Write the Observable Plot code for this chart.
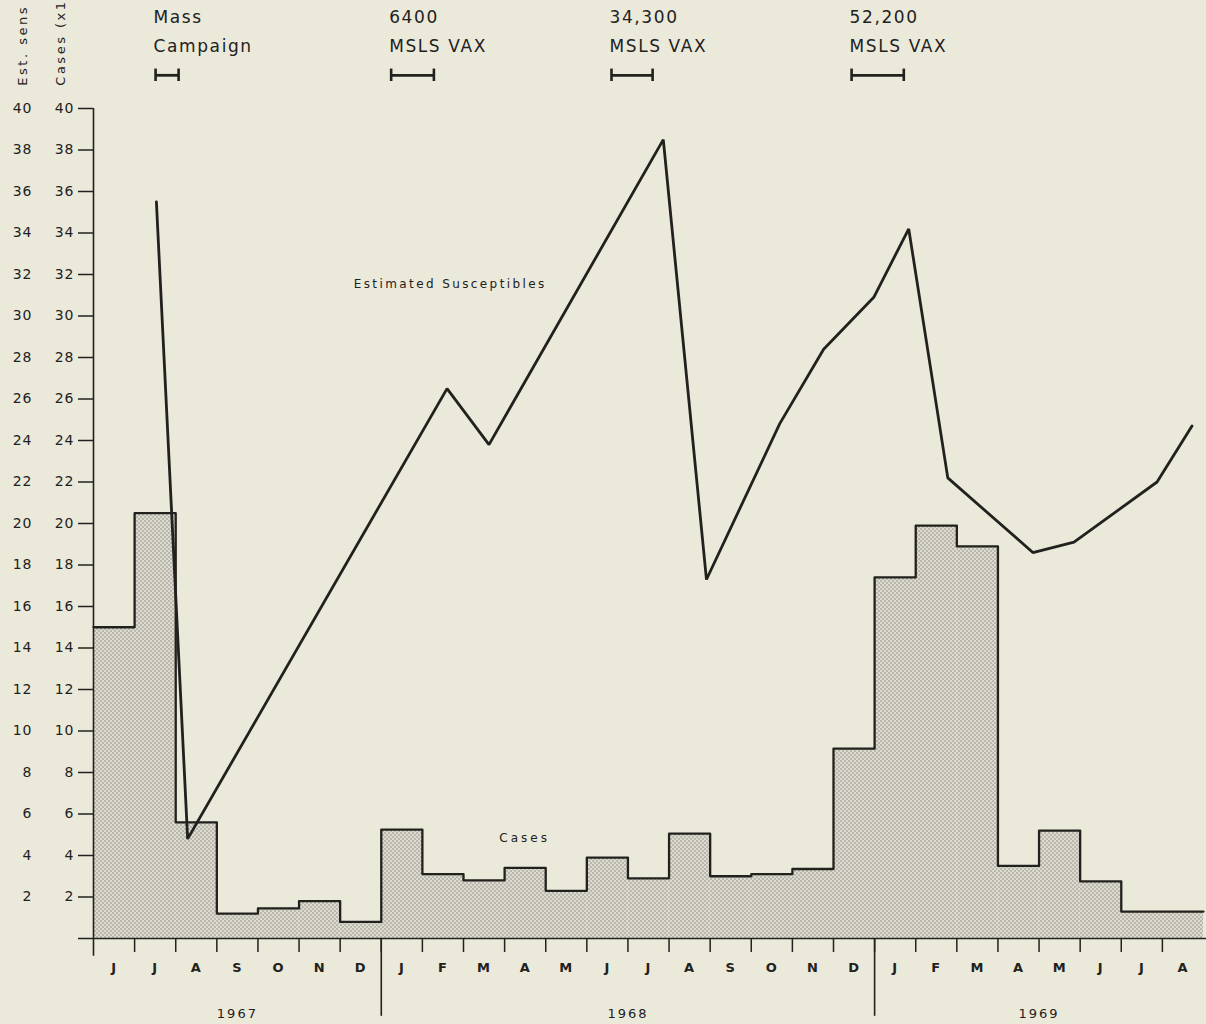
<!DOCTYPE html>
<html>
<head>
<meta charset="utf-8">
<script src="https://cdn.jsdelivr.net/npm/d3@7"></script>
<script src="https://cdn.jsdelivr.net/npm/@observablehq/plot@0.6"></script>
<style>
  html, body { margin: 0; padding: 0; background: #ebe9da; }
  #chart svg { display: block; }
</style>
</head>
<body>
<div id="chart"></div>
<script>
// ---- data ----
// month sequence from June 1967 to August 1969 (one entry per month)
const monthLetters = ["J","J","A","S","O","N","D",
                      "J","F","M","A","M","J","J","A","S","O","N","D",
                      "J","F","M","A","M","J","J","A"];
const years = ["1967", "1968", "1969"];
const yearStart = [0, 7, 19];   // month index where each year's block starts
const yearEnd = [7, 19, 27];
// monthly cases
const cases = [15.0, 20.5, 5.6, 1.2, 1.45, 1.8, 0.8,
               5.25, 3.1, 2.8, 3.4, 2.3, 3.9, 2.9, 5.05, 3.0, 3.1, 3.35, 9.15,
               17.4, 19.9, 18.9, 3.5, 5.2, 2.75, 1.3, 1.3];
// estimated susceptibles: time (months since 1 June 1967) and value
const suscTime = [1.53, 2.29, 8.6, 9.62, 13.86, 14.91, 16.69, 17.76, 18.98, 19.83, 20.78, 22.85, 23.85, 25.87, 26.72];
const suscValue = [35.5, 4.8, 26.5, 23.8, 38.5, 17.3, 24.8, 28.4, 30.9, 34.2, 22.2, 18.6, 19.1, 22.0, 24.7];
// vaccination campaigns
const campTop = ["Mass", "6400", "34,300", "52,200"];
const campBottom = ["Campaign", "MSLS VAX", "MSLS VAX", "MSLS VAX"];
const campStart = [1.51, 7.24, 12.6, 18.44];
const campEnd = [2.07, 8.28, 13.6, 19.71];
const yTicks = d3.range(0, 41, 2);

// ---- derived tables ----
const caseRows = cases.map((v, i) => ({t0: i, t1: i + 1, v}));
const stepRows = caseRows.map(d => ({t: d.t0, v: d.v})).concat([{t: cases.length, v: cases[cases.length - 1]}]);
const suscRows = suscTime.map((t, i) => ({t, v: suscValue[i]}));
const campRows = campTop.map((top, i) => ({top, bottom: campBottom[i], s: campStart[i], e: campEnd[i]}));
const yearRows = years.map((y, i) => ({y, c: (yearStart[i] + yearEnd[i]) / 2}));
const monthCenters = monthLetters.map((m, i) => i + 0.5);
const ink = "#22211d";
const CAMP_Y = 41.6;

const svg = Plot.plot({
  width: 1206,
  height: 1024,
  marginLeft: 93,
  marginRight: 3,
  marginTop: 108,
  marginBottom: 86,
  x: {domain: [0, 27]},
  y: {domain: [0, 40]},
  style: {background: "#ebe9da", fontFamily: "'DejaVu Sans', sans-serif", color: ink, letterSpacing: "1px"},
  marks: [
    // histogram of cases
    Plot.rect(caseRows, {x1: "t0", x2: "t1", y1: 0, y2: "v", fill: "url(#stipple)"}),
    Plot.line(stepRows, {x: "t", y: "v", curve: "step-after", stroke: ink, strokeWidth: 2.3}),
    // susceptibles line
    Plot.line(suscRows, {x: "t", y: "v", stroke: ink, strokeWidth: 2.8, strokeLinejoin: "miter"}),
    // y axes (two label columns)
    Plot.axisY({ticks: yTicks, tickSize: 15, tickPadding: 4, fontSize: 14, strokeWidth: 1.5, label: null,
                tickFormat: d => d === 0 ? "" : String(d)}),
    Plot.axisY({ticks: yTicks.filter(d => d > 0), tickSize: 0, tickPadding: 61, fontSize: 14, label: null,
                tickFormat: d => String(d)}),
    Plot.ruleX([0], {y1: -0.85, y2: 40, stroke: ink, strokeWidth: 1.6}),
    Plot.ruleY([0], {x1: 0, x2: 27.2, stroke: ink, strokeWidth: 1.6}),
    // x axis: month boundary ticks, month letters, year lines & labels
    Plot.axisX({ticks: d3.range(1, 27), tickSize: 14, strokeWidth: 1.5, label: null, tickFormat: () => ""}),
    Plot.axisX({ticks: monthCenters, tickSize: 0, tickPadding: 24, fontSize: 13, fontWeight: "bold", label: null,
                tickFormat: d => monthLetters[Math.floor(d)]}),
    Plot.ruleX(yearStart.slice(1), {y1: 0, y2: -3.75, stroke: ink, strokeWidth: 1.6}),
    Plot.text(yearRows, {x: "c", y: 0, text: "y", dy: 75, fontSize: 13, fill: ink}),
    // axis titles (clipped in the original)
    Plot.text(["Est. sens"], {x: () => -1.73, y: () => 41.1, rotate: -90, textAnchor: "start", fontSize: 13, fill: ink}),
    Plot.text(["Cases (x1"], {x: () => -0.8, y: () => 41.1, rotate: -90, textAnchor: "start", fontSize: 13, fill: ink}),
    // vaccination campaign bars and labels
    Plot.ruleY(campRows, {x1: "s", x2: "e", y: () => CAMP_Y, stroke: ink, strokeWidth: 2.8}),
    Plot.ruleX(campRows, {x: "s", y1: CAMP_Y - 0.3, y2: CAMP_Y + 0.3, stroke: ink, strokeWidth: 2.6}),
    Plot.ruleX(campRows, {x: "e", y1: CAMP_Y - 0.3, y2: CAMP_Y + 0.3, stroke: ink, strokeWidth: 2.6}),
    Plot.text(campRows, {x: "s", y: () => 44.4, text: "top", textAnchor: "start", dx: -2, fontSize: 17, fill: ink}),
    Plot.text(campRows, {x: "s", y: () => 43.0, text: "bottom", textAnchor: "start", dx: -2, fontSize: 17, fill: ink}),
    // series labels
    Plot.text(["Estimated Susceptibles"], {x: () => 6.33, y: () => 31.55, textAnchor: "start", fontSize: 12, fill: ink}),
    Plot.text(["Cases"], {x: () => 9.87, y: () => 4.82, textAnchor: "start", fontSize: 12, fill: ink})
  ]
});

// stipple pattern for the histogram fill
const defs = d3.select(svg).insert("defs", ":first-child");
const pat = defs.append("pattern").attr("id", "stipple").attr("patternUnits", "userSpaceOnUse")
  .attr("width", 4).attr("height", 4);
pat.append("rect").attr("width", 4).attr("height", 4).attr("fill", "#dddbcf");
pat.append("circle").attr("cx", 1).attr("cy", 1).attr("r", 0.9).attr("fill", "#a9a79c");
pat.append("circle").attr("cx", 3).attr("cy", 3).attr("r", 0.9).attr("fill", "#a9a79c");

// letter spacing tweaks
const campTexts = new Set(campTop.concat(campBottom));
d3.select(svg).selectAll("text").each(function() {
  const t = this.textContent;
  if (t === "Estimated Susceptibles") this.setAttribute("letter-spacing", "2.4px");
  else if (t === "Cases") this.setAttribute("letter-spacing", "3px");
  else if (t === "Est. sens" || t === "Cases (x1") this.setAttribute("letter-spacing", "2.5px");
  else if (years.includes(t)) this.setAttribute("letter-spacing", "2px");
  else if (campTexts.has(t)) this.setAttribute("letter-spacing", "1.6px");
});

document.getElementById("chart").appendChild(svg);
</script>
</body>
</html>
